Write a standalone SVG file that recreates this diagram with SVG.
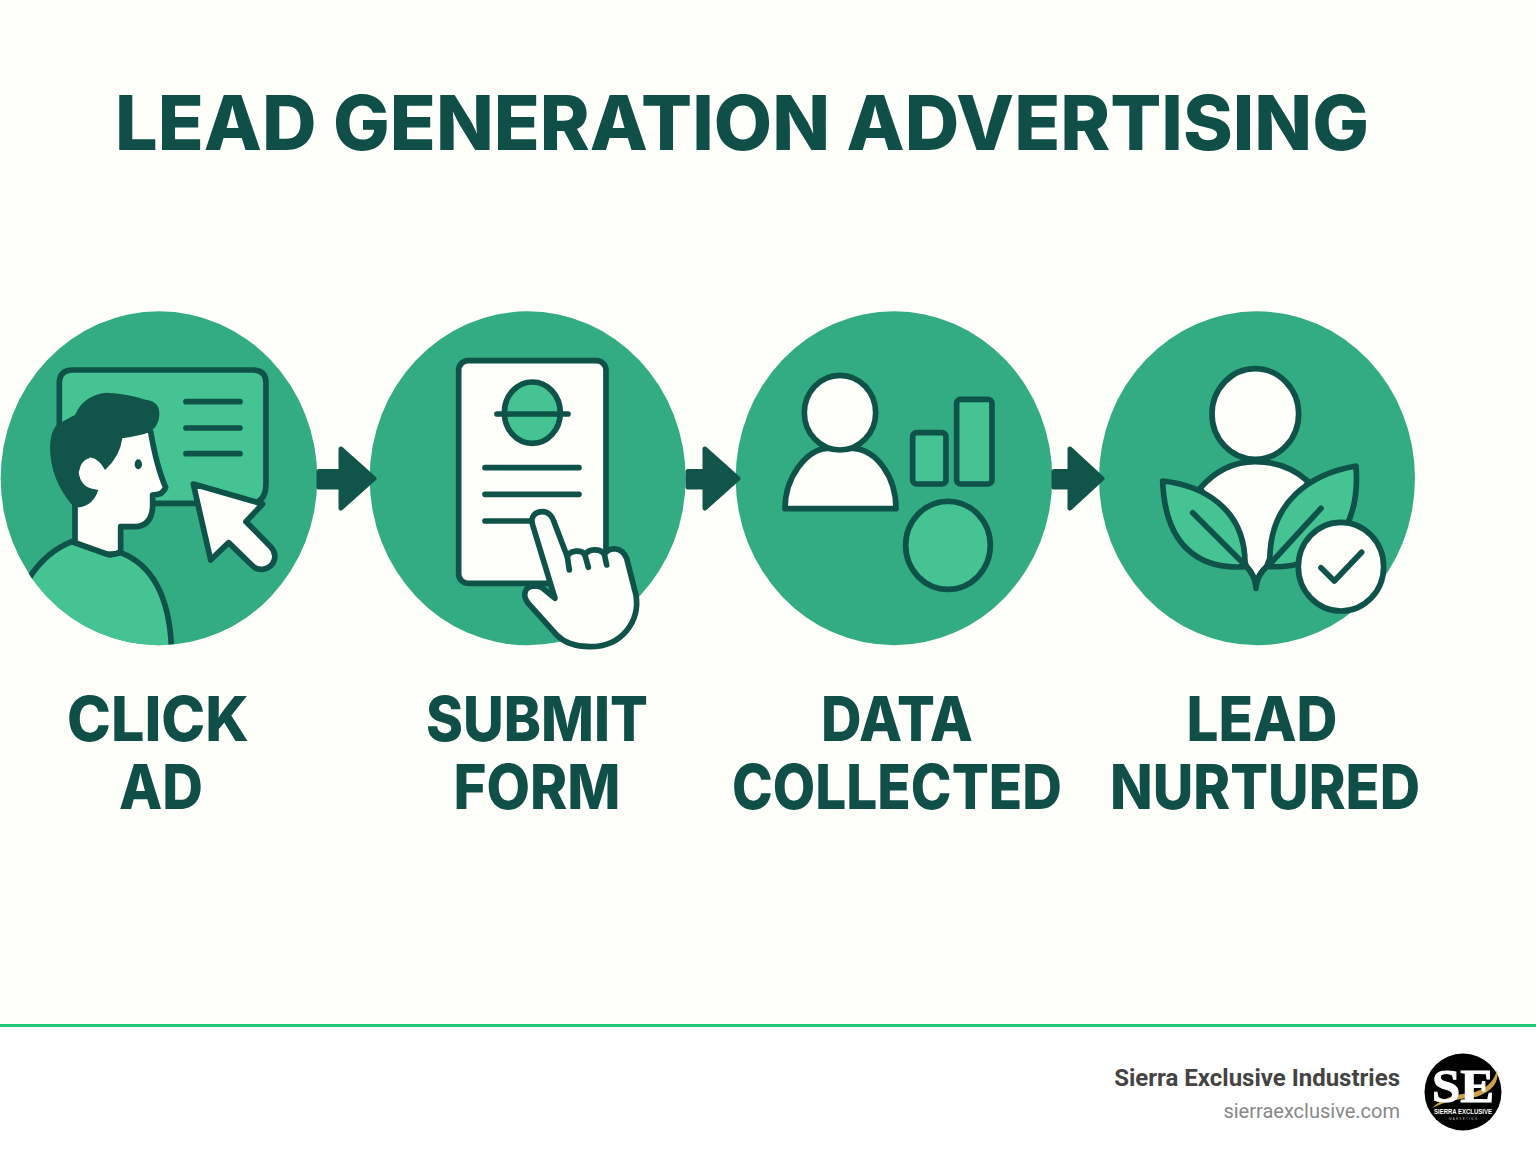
<svg xmlns="http://www.w3.org/2000/svg" width="1536" height="1154" viewBox="0 0 1536 1154">
<style>
.disc{fill:#33ac83}
.ln{stroke:#0f524a;stroke-width:17;stroke-linejoin:round;stroke-linecap:round}
.w{fill:#fefefa}
.l{fill:#45c393}
.d{fill:#11544a}
.t{font-family:Inter,"Liberation Sans",sans-serif;font-weight:800;fill:#0f4f48;text-anchor:middle}
.lab{font-size:62px}
.f{font-family:Roboto,"Liberation Sans",sans-serif;text-anchor:end}
.ar{fill:#11544a;stroke:#11544a;stroke-width:5;stroke-linejoin:round}
</style>
<defs>
<clipPath id="c1"><ellipse cx="476" cy="535" rx="476" ry="501"/></clipPath>
</defs>
<rect width="1536" height="1154" fill="#fff"/>
<rect width="1536" height="1025" fill="#fefefa"/>
<rect y="1024" width="1536" height="3" fill="#20c873"/>
<text id="title" class="t" x="742" y="150" font-size="76" textLength="1254" lengthAdjust="spacingAndGlyphs">LEAD GENERATION ADVERTISING</text>

<g id="node-click-ad">
<g transform="translate(0 300) scale(.3333)">
<ellipse class="disc" cx="477" cy="535" rx="475" ry="501"/>
<path class="l ln" d="M218 210H758Q798 210 798 250V550Q798 610 750 610H300Q178 610 178 500V250Q178 210 218 210Z"/>
<path class="ln" fill="none" d="M558 305H720M558 384H720M558 461H720" stroke-width="18"/>
<g clip-path="url(#c1)">
<path class="l ln" d="M90 830Q140 755 215 725L330 765L362 758Q510 815 515 1060H40Z"/>
</g>
<path class="w ln" d="M225 600V728L320 762Q345 765 362 755V680H410Q455 675 458 620V585Q490 585 497 562Q470 500 452 395L300 300L225 500Z"/>
<path class="d" d="M170 375Q205 355 225 345Q250 285 320 278Q380 280 440 300Q480 305 478 345Q475 395 420 405Q390 412 367 415Q360 470 315 510Q300 480 270 472L236 515Q240 560 295 570Q280 615 240 622L222 622Q150 540 150 440Q152 395 170 375Z"/>
<path class="w" d="M238 515C240 490 255 474 275 474C292 476 303 492 307 508L320 520L300 568H290C255 566 238 545 238 515Z"/>
<ellipse class="d" cx="415" cy="493" rx="11" ry="15"/>
<path class="w ln" d="M580 552L788 612L738 665L812 740C835 765 825 800 790 808C775 810 762 803 755 795L686 728L632 780Z"/>
</g>
<text class="t lab" x="158" y="741" textLength="182" lengthAdjust="spacingAndGlyphs">CLICK</text>
<text class="t lab" x="161" y="809" textLength="84" lengthAdjust="spacingAndGlyphs">AD</text>
</g>

<g id="node-submit-form">
<g transform="translate(360 300) scale(.3333)">
<ellipse class="disc" cx="503" cy="535" rx="474" ry="501"/>
<rect class="w ln" x="296" y="182" width="442" height="668" rx="28"/>
<ellipse class="l ln" cx="517" cy="338" rx="84" ry="92"/>
<path class="ln" fill="none" stroke-width="18" d="M411 342H624M375 503H657M375 583H657M375 663H525"/>
<path class="w ln" d="M585 895L518 675C510 650 525 635 548 635C565 635 578 650 582 665L622 770C630 750 665 748 675 765C685 745 720 745 733 762C750 740 785 740 800 775L828 885C840 960 790 1040 690 1040C640 1040 610 1025 590 1005L505 910C485 885 495 860 520 858C530 858 540 860 545 862Z"/>
<path class="ln" fill="none" d="M622 770L628 810M675 765L685 802M733 762L740 795"/>
</g>
<text class="t lab" x="537" y="741" textLength="222" lengthAdjust="spacingAndGlyphs">SUBMIT</text>
<text class="t lab" x="537" y="809" textLength="167" lengthAdjust="spacingAndGlyphs">FORM</text>
</g>

<g id="node-data-collected">
<g transform="translate(730 300) scale(.3333)">
<ellipse class="disc" cx="492" cy="535" rx="475" ry="501"/>
<path class="w ln" d="M165 626H498C498 530 440 450 370 445H290C230 450 165 530 165 626Z"/>
<ellipse class="w ln" cx="330" cy="338" rx="107" ry="112"/>
<rect class="l ln" x="548" y="398" width="100" height="154" rx="12"/>
<rect class="l ln" x="680" y="298" width="106" height="254" rx="12"/>
<ellipse class="l ln" cx="654" cy="736" rx="127" ry="132"/>
</g>
<text class="t lab" x="897" y="741" textLength="152" lengthAdjust="spacingAndGlyphs">DATA</text>
<text class="t lab" x="897" y="809" textLength="330" lengthAdjust="spacingAndGlyphs">COLLECTED</text>
</g>

<g id="node-lead-nurtured">
<g transform="translate(1090 340) scale(.3333)">
<ellipse class="disc" cx="501" cy="415" rx="474" ry="501"/>
<path class="w ln" d="M330 445Q400 365 496 365Q590 365 655 425L560 600L530 680Q505 700 498 735Q490 700 470 680L440 600Z"/>
<ellipse class="w ln" cx="496" cy="222" rx="130" ry="136"/>
<path class="l ln" d="M218 423C330 435 470 500 465 680C330 690 225 620 218 423Z"/>
<path class="l ln" d="M798 378C670 400 530 480 540 680C680 685 815 600 798 378Z"/>
<path class="ln" fill="none" d="M308 518L465 675M693 505L540 672M470 680Q498 710 498 745Q498 710 530 680"/>
<ellipse class="w ln" cx="753" cy="680" rx="128" ry="133"/>
<path class="ln" fill="none" d="M693 683L733 723L815 637"/>
</g>
<text class="t lab" x="1262" y="741" textLength="151" lengthAdjust="spacingAndGlyphs">LEAD</text>
<text class="t lab" x="1265" y="809" textLength="310" lengthAdjust="spacingAndGlyphs">NURTURED</text>
</g>

<g id="connectors">
<path class="ar" d="M319 471.500H341V449L374 478.500L341 508V487H319Z"/>
<path class="ar" d="M688 471.500H705V449L738 478.500L705 508V487H688Z"/>
<path class="ar" d="M1054 471.500H1070V449L1102 478.500L1070 508V487H1054Z"/>
</g>

<g id="footer">
<text class="f" x="1400" y="1086" font-size="24" font-weight="700" fill="#444">Sierra Exclusive Industries</text>
<text class="f" x="1400" y="1118" font-size="20" fill="#888">sierraexclusive.com</text>
<circle cx="1463" cy="1092" r="38.500" fill="#000"/>
<path d="M1432 1108Q1445 1095 1470 1093Q1492 1089 1497 1070Q1501 1088 1476 1097Q1450 1099 1432 1108Z" fill="#c9a24a"/>
<text x="1463" y="1102" font-family="'Liberation Serif',serif" font-weight="700" font-size="46" fill="#fff" stroke="#fff" stroke-width="1" text-anchor="middle" textLength="62" lengthAdjust="spacingAndGlyphs">SE</text>
<text x="1463" y="1114" font-family="'Liberation Sans',sans-serif" font-weight="700" font-size="7" fill="#fff" text-anchor="middle" textLength="58" lengthAdjust="spacingAndGlyphs">SIERRA EXCLUSIVE</text>
<text x="1463" y="1120" font-family="'Liberation Sans',sans-serif" font-size="3" fill="#bbb" text-anchor="middle" textLength="28" lengthAdjust="spacing">MARKETING</text>
</g>
</svg>
